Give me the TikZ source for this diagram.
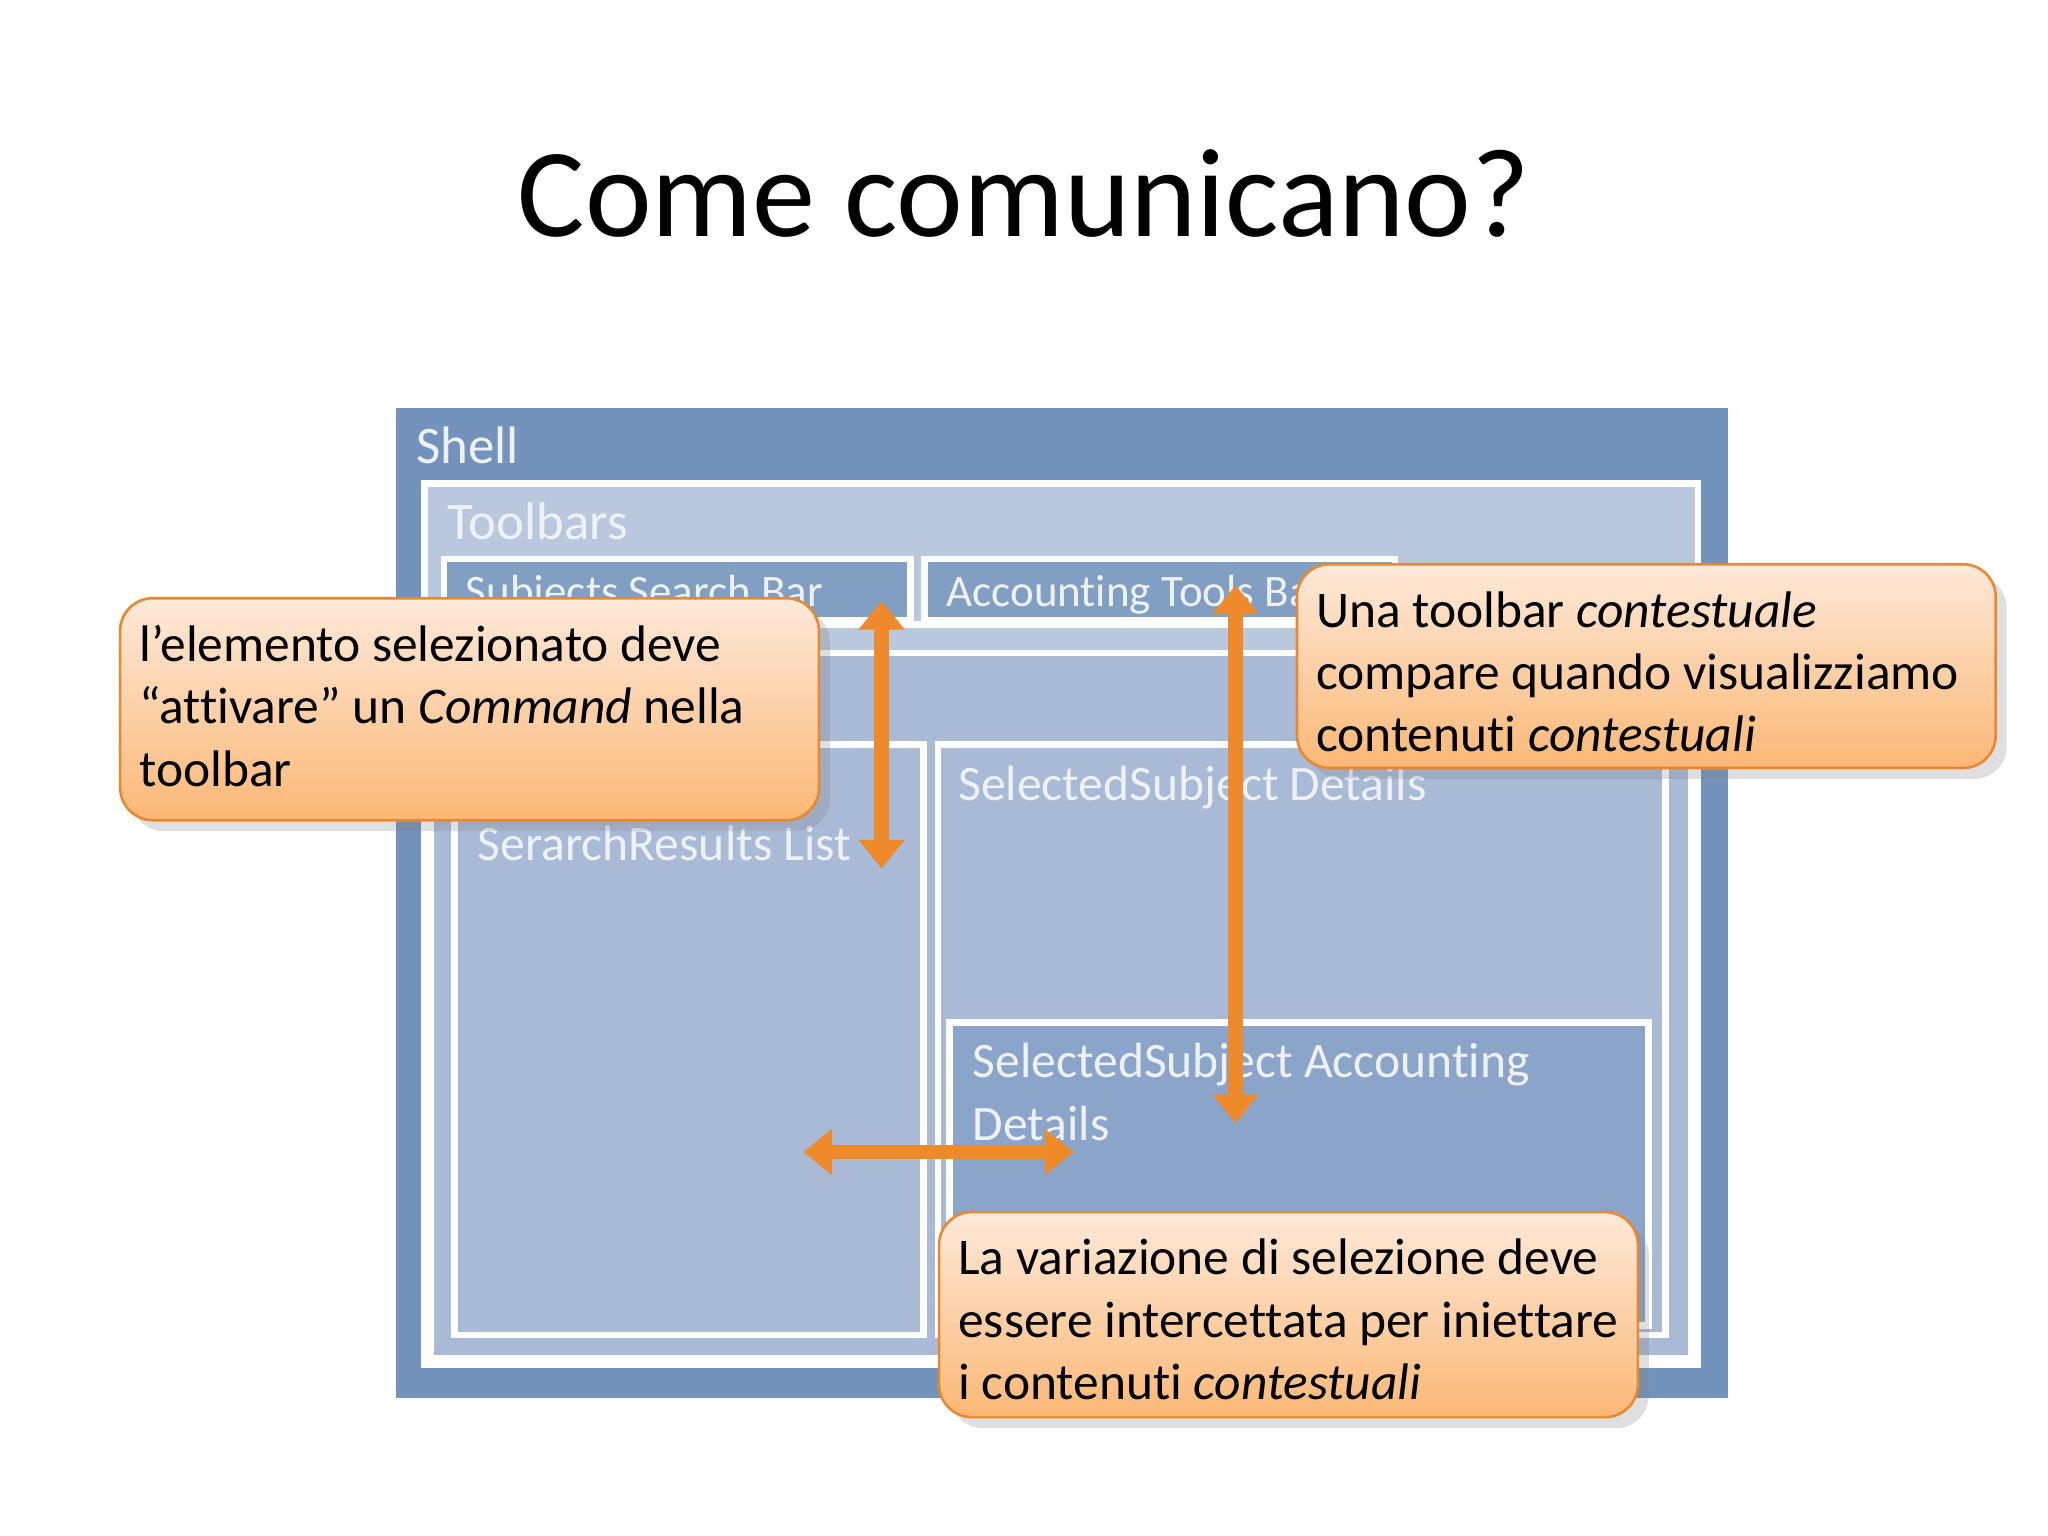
\documentclass[tikz,border=0pt]{standalone}
\usepackage{fontspec}
\setmainfont[Ligatures={NoCommon}]{Carlito}
\usetikzlibrary{arrows.meta,shadows}
\definecolor{shellc}{HTML}{7393BC}
\definecolor{lightc}{HTML}{B9C8DD}
\definecolor{midc}{HTML}{A9BAD6}
\definecolor{darkc}{HTML}{8BA4C9}
\definecolor{labc}{HTML}{EEF2F8}
\definecolor{orA}{HTML}{FEE9D9}
\definecolor{orB}{HTML}{FBB876}
\definecolor{orD}{HTML}{E8892F}
\definecolor{arr}{HTML}{EE8A2A}
\begin{document}
\begin{tikzpicture}[x=0.01cm,y=-0.01cm,
  lab/.style={anchor=north west,text=labc,font=\fontsize{10.8}{12}\selectfont,inner sep=0pt},
  frame/.style={draw=white,line width=0.05cm},
  callout/.style={rounded corners=0.25cm,draw=orD,line width=0.02cm,top color=orA,bottom color=orB,drop shadow={opacity=0.25}},
  ctext/.style={anchor=north west,align=left,inner sep=0pt,font=\fontsize{11.2}{13.6}\selectfont,text=black},
  fat/.style={draw=arr,line width=0.11cm,{Triangle[width=0.34cm,length=0.22cm]}-{Triangle[width=0.34cm,length=0.22cm]}}]
\useasboundingbox (0,0) rectangle (1568,1176);
\fill[white] (0,0) rectangle (1568,1176);
\node (title) at (784,148) {\fontsize{27.5}{32}\selectfont Come comunicano?};
% shell
\fill[shellc] (303,312) rectangle (1323,1070);
\node[lab] (shl) at (318,326) {\fontsize{11.5}{13}\selectfont Shell};
\fill[lightc] (325,370) rectangle (1300,1045);
\draw[frame] (325,370) rectangle (1300,1045);
\node[lab] (tbl) at (342,384) {\fontsize{11.5}{13}\selectfont Toolbars};
\draw[frame] (325,478) -- (1300,478);
\fill[shellc!80!lightc] (340,428) rectangle (697,475);
\draw[frame] (340,428) rectangle (697,475);
\node[lab,font=\fontsize{9.8}{11}\selectfont] (ssb) at (356,440) {Subjects Search Bar};
\fill[shellc!80!lightc] (708,428) rectangle (1068,475);
\draw[frame] (708,428) rectangle (1068,475);
\node[lab,font=\fontsize{9.8}{11}\selectfont] (atb) at (724,440) {Accounting Tools Bar};
\fill[midc] (330,500) rectangle (1295,1040);
\draw[frame] (330,500) rectangle (1295,1040);
\fill[midc] (348,570) rectangle (707,1022);
\draw[frame] (348,570) rectangle (707,1022);
\node[lab] (srl) at (365,632) {SerarchResults List};
\fill[midc] (718,570) rectangle (1275,1022);
\draw[frame] (718,570) rectangle (1275,1022);
\node[lab] (ssd) at (733,586) {SelectedSubject Details};
\fill[darkc] (727,783) rectangle (1262,1015);
\draw[frame] (727,783) rectangle (1262,1015);
\node[lab,align=left,font=\fontsize{10.8}{13.6}\selectfont] (ssa) at (744,798) {SelectedSubject Accounting\\Details};
% callouts
\draw[callout] (92,458) rectangle (627,628);
\node[ctext] (c1) at (106,478) {l’elemento selezionato deve\\“attivare” un \textit{Command} nella\\toolbar};
\draw[callout] (993,432) rectangle (1528,588);
\node[ctext] (c2) at (1007,452) {Una toolbar \textit{contestuale}\\compare quando visualizziamo\\contenuti \textit{contestuali}};
% arrows
\coordinate (a1) at (675,460); \coordinate (a2) at (675,665);
\draw[fat] (a1) -- (a2);
\coordinate (b1) at (946,448); \coordinate (b2) at (946,860);
\draw[fat] (b1) -- (b2);
\coordinate (h1) at (615,882); \coordinate (h2) at (822,882);
\draw[fat] (h1) -- (h2);
\draw[callout] (719,928) rectangle (1254,1085);
\node[ctext] (c3) at (733,948) {La variazione di selezione deve\\essere intercettata per iniettare\\i contenuti \textit{contestuali}};
\end{tikzpicture}
\end{document}
